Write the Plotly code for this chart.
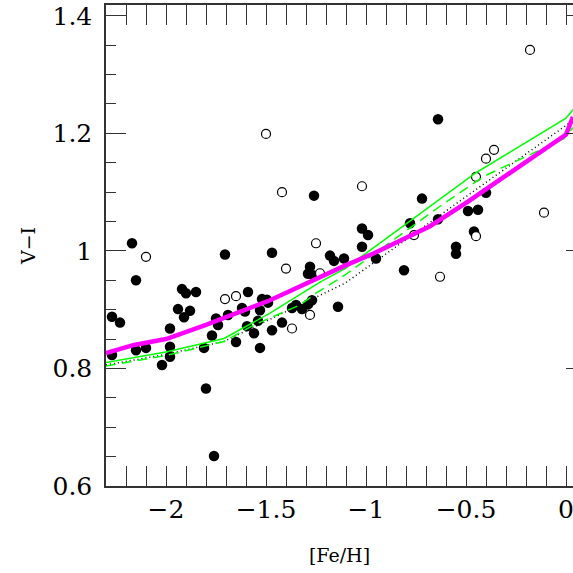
import plotly.graph_objects as go

# filled points ([Fe/H], V-I)
feh_filled = [-2.27, -2.23, -2.27, -2.17, -2.15, -2.15, -2.10, -2.02, -1.98, -1.98,
              -1.98, -1.94, -1.92, -1.90, -1.85, -1.91, -1.88, -1.81, -1.77, -1.80,
              -1.76, -1.75, -1.74, -1.705, -1.69, -1.65, -1.62, -1.605, -1.59, -1.595,
              -1.56, -1.54, -1.53, -1.52, -1.495, -1.49, -1.53, -1.47, -1.47, -1.42,
              -1.37, -1.35, -1.32, -1.29, -1.27, -1.28, -1.29, -1.26, -1.18, -1.16,
              -1.11, -1.14, -1.26, -1.02, -0.99, -1.02, -0.95, -0.81, -0.78, -0.72,
              -0.64, -0.64, -0.55, -0.55, -0.49, -0.44, -0.46, -0.40]
vi_filled = [0.888, 0.878, 0.823, 1.013, 0.950, 0.831, 0.835, 0.806, 0.868, 0.837,
             0.820, 0.901, 0.935, 0.928, 0.930, 0.887, 0.898, 0.835, 0.856, 0.766,
             0.651, 0.885, 0.874, 0.994, 0.891, 0.845, 0.903, 0.897, 0.930, 0.872,
             0.860, 0.881, 0.899, 0.918, 0.917, 0.912, 0.835, 0.865, 0.997, 0.878,
             0.903, 0.908, 0.901, 0.909, 0.916, 0.973, 0.961, 0.958, 0.992, 0.983,
             0.987, 0.905, 1.094, 1.038, 1.027, 1.007, 0.987, 0.967, 1.047, 1.089,
             1.054, 1.224, 1.007, 0.995, 1.068, 1.070, 1.033, 1.099]

# open points
feh_open = [-2.10, -1.705, -1.65, -1.50, -1.42, -1.40, -1.37, -1.28, -1.25, -1.23,
            -1.02, -0.76, -0.63, -0.45, -0.45, -0.40, -0.36, -0.18, -0.11]
vi_open = [0.990, 0.918, 0.923, 1.199, 1.100, 0.970, 0.868, 0.891, 1.013, 0.962,
           1.110, 1.027, 0.956, 1.025, 1.126, 1.157, 1.172, 1.342, 1.065]

# model curves
feh_mag = [-2.30, -2.16, -2.0, -1.80, -1.48, -1.25, -1.105, -0.96, -0.68, -0.49, 0.0, 0.035]
vi_mag = [0.826, 0.840, 0.850, 0.874, 0.916, 0.953, 0.975, 0.996, 1.042, 1.084, 1.198, 1.228]

feh_gsolid = [-2.30, -2.0, -1.71, -1.48, -1.23, -1.105, -0.98, -0.45, 0.0, 0.035]
vi_gsolid = [0.810, 0.828, 0.851, 0.894, 0.947, 0.970, 1.001, 1.133, 1.226, 1.24]

feh_gdash = [-2.30, -2.0, -1.71, -1.56, -1.33, -1.25, -1.105, -0.63, -0.41, -0.01, 0.035]
vi_gdash = [0.804, 0.822, 0.846, 0.874, 0.908, 0.928, 0.959, 1.076, 1.127, 1.191, 1.21]

feh_dot = [-2.30, -2.0, -1.71, -1.105, -0.53, 0.0, 0.035]
vi_dot = [0.806, 0.824, 0.846, 0.945, 1.085, 1.213, 1.222]

font = "DejaVu Serif"
axcol = "#333333"
yrange = [0.6, 1.4184]

fig = go.Figure()

fig.add_trace(go.Scatter(x=feh_filled, y=vi_filled, mode='markers',
                         marker=dict(size=10.5, color='black')))
fig.add_trace(go.Scatter(x=feh_open, y=vi_open, mode='markers',
                         marker=dict(size=9, color='white', line=dict(color='black', width=1.2))))

fig.add_trace(go.Scatter(x=feh_dot, y=vi_dot, mode='lines',
                         line=dict(color='black', width=1.5, dash='1px,3px')))
fig.add_trace(go.Scatter(x=feh_gdash, y=vi_gdash, mode='lines',
                         line=dict(color='#00ff00', width=1.5, dash='10px,6px')))
fig.add_trace(go.Scatter(x=feh_gsolid, y=vi_gsolid, mode='lines',
                         line=dict(color='#00ff00', width=1.5)))
fig.add_trace(go.Scatter(x=feh_mag, y=vi_mag, mode='lines',
                         line=dict(color='#ff00ff', width=4.5)))

# right-hand tick stubs (frame is off the edge of the picture)
fig.add_trace(go.Scatter(x=[], y=[], yaxis='y2', showlegend=False, hoverinfo='skip'))

fig.update_layout(
    width=573, height=573,
    margin=dict(l=106, r=0, t=5, b=87, autoexpand=False),
    paper_bgcolor='white', plot_bgcolor='white',
    showlegend=False,
    font=dict(family=font, color='black'),
    xaxis=dict(
        range=[-2.3, 0.035], dtick=0.5, tick0=0, automargin=False,
        ticks='inside', ticklen=20, tickwidth=1.3, tickcolor=axcol,
        minor=dict(dtick=0.1, ticks='inside', ticklen=10, tickwidth=1.3, tickcolor=axcol),
        showline=True, linecolor=axcol, linewidth=1.5, mirror='allticks',
        showgrid=False, zeroline=False, ticklabeloverflow='allow',
        tickfont=dict(size=25, family=font),
        title=dict(text='[Fe/H]', font=dict(size=19, family=font), standoff=26),
    ),
    yaxis=dict(
        range=yrange, dtick=0.2, tick0=0, automargin=False,
        ticks='inside', ticklen=20, tickwidth=1.3, tickcolor=axcol,
        minor=dict(dtick=0.05, ticks='inside', ticklen=10, tickwidth=1.3, tickcolor=axcol),
        showline=True, linecolor=axcol, linewidth=1.5, mirror=False,
        showgrid=False, zeroline=False, ticklabeloverflow='allow',
        tickfont=dict(size=25, family=font),
        ticklabelstandoff=7,
        title=dict(text='V\u2212I', font=dict(size=19, family=font), standoff=12),
    ),
    yaxis2=dict(
        range=yrange, overlaying='y', side='right', anchor='x', automargin=False,
        tickvals=[0.6, 0.8, 1.0, 1.2, 1.4],
        ticks='inside', ticklen=7, tickwidth=1.3, tickcolor=axcol,
        showticklabels=False, showline=False, showgrid=False, zeroline=False,
    ),
)

# page body has a default 8px margin; drop it so the figure sits at the corner
fig.write_html("out.html", config={'displayModeBar': False},
               post_script="document.body.style.margin='0';")
